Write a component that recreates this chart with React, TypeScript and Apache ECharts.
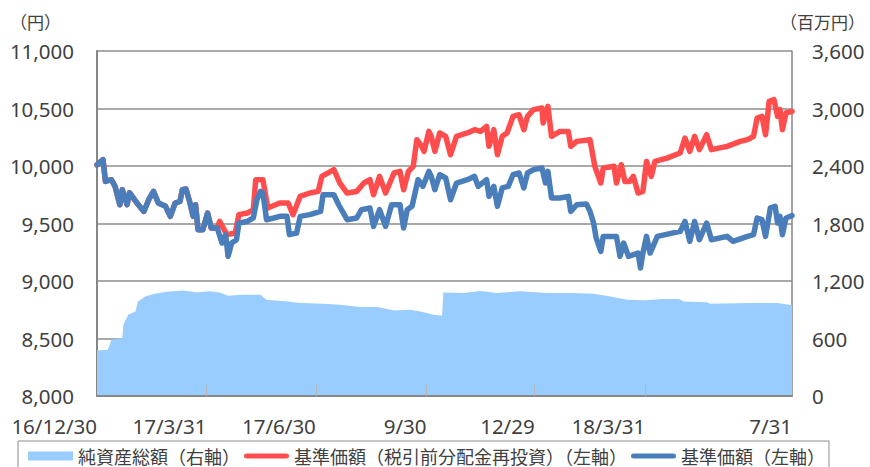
import React, { useEffect, useRef } from 'react';
import * as echarts from 'echarts';

// x-axis tick dates and labels
const tickDates = ['2016-12-30', '2017-03-31', '2017-06-30', '2017-09-30', '2017-12-29', '2018-03-31', '2018-07-31'];
const tickLabels = ['16/12/30', '17/3/31', '17/6/30', '9/30', '12/29', '18/3/31', '7/31'];
const startDate = '2016-12-30';
const endDate = '2018-07-31';

// 基準価額（左軸）
const navDates = [
  '2016-12-30', '2017-01-04', '2017-01-06', '2017-01-11', '2017-01-14', '2017-01-18', '2017-01-20', '2017-01-24', '2017-01-26',
  '2017-02-01', '2017-02-07', '2017-02-11', '2017-02-15', '2017-02-19', '2017-02-25', '2017-03-01', '2017-03-05', '2017-03-09',
  '2017-03-11', '2017-03-14', '2017-03-17', '2017-03-20', '2017-03-22', '2017-03-24', '2017-03-28', '2017-04-01', '2017-04-04',
  '2017-04-09', '2017-04-13', '2017-04-16', '2017-04-18', '2017-04-21', '2017-04-25', '2017-04-27', '2017-05-04', '2017-05-09',
  '2017-05-12', '2017-05-15', '2017-05-17', '2017-05-20', '2017-05-26', '2017-05-31', '2017-06-06', '2017-06-08', '2017-06-14',
  '2017-06-17', '2017-06-25', '2017-07-04', '2017-07-06', '2017-07-15', '2017-07-19', '2017-07-26', '2017-08-03', '2017-08-07',
  '2017-08-14', '2017-08-17', '2017-08-22', '2017-08-27', '2017-09-01', '2017-09-08', '2017-09-11', '2017-09-14', '2017-09-18',
  '2017-09-23', '2017-09-27', '2017-10-02', '2017-10-04', '2017-10-07', '2017-10-11', '2017-10-16', '2017-10-20', '2017-10-25',
  '2017-11-03', '2017-11-09', '2017-11-12', '2017-11-19', '2017-11-21', '2017-11-25', '2017-11-28', '2017-12-02', '2017-12-07',
  '2017-12-11', '2017-12-16', '2017-12-20', '2017-12-23', '2017-12-28', '2018-01-04', '2018-01-07', '2018-01-09', '2018-01-12',
  '2018-01-19', '2018-01-26', '2018-01-28', '2018-02-02', '2018-02-10', '2018-02-13', '2018-02-16', '2018-02-18', '2018-02-22',
  '2018-02-24', '2018-03-07', '2018-03-10', '2018-03-13', '2018-03-17', '2018-03-25', '2018-03-27', '2018-03-29', '2018-04-01',
  '2018-04-04', '2018-04-10', '2018-04-29', '2018-05-03', '2018-05-07', '2018-05-11', '2018-05-15', '2018-05-21', '2018-05-25',
  '2018-06-07', '2018-06-12', '2018-06-24', '2018-06-29', '2018-07-02', '2018-07-06', '2018-07-09', '2018-07-13', '2018-07-17',
  '2018-07-19', '2018-07-21', '2018-07-23', '2018-07-26', '2018-07-31',
];
const navValues = [
  10010, 10055, 9866, 9881, 9823, 9663, 9794, 9663, 9768,
  9681, 9605, 9707, 9779, 9678, 9649, 9562, 9678, 9692,
  9794, 9800, 9692, 9562, 9663, 9446, 9446, 9591, 9461,
  9461, 9330, 9403, 9214, 9330, 9359, 9504, 9518, 9548,
  9707, 9779, 9765, 9533, 9548, 9562, 9562, 9403, 9417,
  9562, 9577, 9605, 9750, 9750, 9663, 9533, 9548, 9620,
  9635, 9475, 9620, 9475, 9663, 9663, 9461, 9620, 9649,
  9881, 9823, 9953, 9910, 9794, 9924, 9896, 9707, 9852,
  9881, 9910, 9823, 9881, 9736, 9823, 9649, 9809, 9823,
  9924, 9939, 9809, 9939, 9968, 9983, 9852, 9953, 9722,
  9722, 9736, 9605, 9663, 9670, 9605, 9504, 9380, 9257,
  9388, 9388, 9214, 9330, 9214, 9243, 9113, 9243, 9388,
  9243, 9388, 9431, 9518, 9344, 9518, 9359, 9504, 9359,
  9388, 9344, 9388, 9403, 9548, 9533, 9388, 9635, 9649,
  9504, 9562, 9403, 9548, 9568,
];

// 基準価額（税引前分配金再投資）（左軸）
const reinvDates = [
  '2016-12-30', '2017-01-04', '2017-01-06', '2017-01-11', '2017-01-14', '2017-01-18', '2017-01-20', '2017-01-24', '2017-01-26',
  '2017-02-01', '2017-02-07', '2017-02-11', '2017-02-15', '2017-02-19', '2017-02-25', '2017-03-01', '2017-03-05', '2017-03-09',
  '2017-03-11', '2017-03-14', '2017-03-17', '2017-03-20', '2017-03-22', '2017-03-24', '2017-03-28', '2017-04-01', '2017-04-04',
  '2017-04-09', '2017-04-11', '2017-04-17', '2017-04-24', '2017-04-27', '2017-05-04', '2017-05-09', '2017-05-11', '2017-05-17',
  '2017-05-21', '2017-05-31', '2017-06-07', '2017-06-11', '2017-06-17', '2017-06-25', '2017-07-02', '2017-07-05', '2017-07-15',
  '2017-07-20', '2017-07-26', '2017-08-03', '2017-08-09', '2017-08-14', '2017-08-17', '2017-08-22', '2017-08-27', '2017-09-03',
  '2017-09-08', '2017-09-11', '2017-09-15', '2017-09-19', '2017-09-22', '2017-09-26', '2017-09-28', '2017-10-02', '2017-10-04',
  '2017-10-07', '2017-10-11', '2017-10-16', '2017-10-20', '2017-10-25', '2017-11-03', '2017-11-09', '2017-11-14', '2017-11-19',
  '2017-11-21', '2017-11-25', '2017-11-28', '2017-12-02', '2017-12-06', '2017-12-11', '2017-12-16', '2017-12-20', '2017-12-23',
  '2017-12-28', '2018-01-04', '2018-01-05', '2018-01-09', '2018-01-12', '2018-01-19', '2018-01-26', '2018-01-28', '2018-02-02',
  '2018-02-13', '2018-02-17', '2018-02-22', '2018-02-24', '2018-03-05', '2018-03-07', '2018-03-11', '2018-03-14', '2018-03-18',
  '2018-03-21', '2018-03-25', '2018-03-29', '2018-04-01', '2018-04-05', '2018-04-08', '2018-04-18', '2018-04-29', '2018-05-03',
  '2018-05-07', '2018-05-11', '2018-05-15', '2018-05-21', '2018-05-25', '2018-06-07', '2018-06-18', '2018-06-24', '2018-06-29',
  '2018-07-02', '2018-07-06', '2018-07-09', '2018-07-12', '2018-07-16', '2018-07-19', '2018-07-21', '2018-07-23', '2018-07-26',
  '2018-07-31',
];
const reinvValues = [
  10010, 10055, 9866, 9881, 9823, 9663, 9794, 9663, 9768,
  9681, 9605, 9707, 9779, 9678, 9649, 9562, 9678, 9692,
  9794, 9800, 9692, 9562, 9663, 9446, 9446, 9591, 9461,
  9461, 9518, 9403, 9417, 9577, 9591, 9620, 9881, 9881,
  9635, 9678, 9678, 9577, 9736, 9765, 9779, 9910, 9968,
  9852, 9765, 9779, 9852, 9881, 9750, 9910, 9765, 9939,
  9953, 9794, 9953, 9997, 10229, 10171, 10127, 10301, 10258,
  10127, 10287, 10258, 10098, 10258, 10287, 10316, 10301, 10345,
  10171, 10316, 10098, 10258, 10287, 10432, 10446, 10316, 10432,
  10490, 10504, 10374, 10519, 10258, 10301, 10301, 10171, 10214,
  10229, 9997, 9852, 9983, 9997, 9852, 10011, 9866, 9866,
  9910, 9765, 9779, 10040, 9910, 10040, 10069, 10113, 10243,
  10127, 10258, 10142, 10272, 10142, 10171, 10214, 10229, 10258,
  10417, 10432, 10272, 10562, 10577, 10432, 10490, 10316, 10461,
  10475,
];

// 純資産総額（右軸）百万円
const assetDates = [
  '2016-12-30', '2017-01-08', '2017-01-11', '2017-01-20', '2017-01-21', '2017-01-25', '2017-01-31', '2017-02-02', '2017-02-08',
  '2017-02-16', '2017-02-26', '2017-03-12', '2017-03-23', '2017-04-02', '2017-04-11', '2017-04-18', '2017-05-01', '2017-05-15',
  '2017-05-20', '2017-06-06', '2017-06-17', '2017-07-06', '2017-07-20', '2017-08-06', '2017-08-20', '2017-09-03', '2017-09-16',
  '2017-09-25', '2017-10-06', '2017-10-13', '2017-10-14', '2017-10-31', '2017-11-14', '2017-11-28', '2017-12-17', '2018-01-08',
  '2018-01-28', '2018-02-16', '2018-03-02', '2018-03-16', '2018-03-30', '2018-04-15', '2018-04-28', '2018-05-02', '2018-05-21',
  '2018-05-24', '2018-06-29', '2018-07-19', '2018-07-30', '2018-07-31',
];
const assetValues = [
  476, 483, 587, 605, 744, 848, 883, 987, 1039,
  1067, 1088, 1102, 1081, 1092, 1081, 1047, 1057, 1057,
  1005, 987, 970, 963, 953, 929, 929, 893, 901,
  883, 848, 838, 1081, 1075, 1096, 1075, 1092, 1075,
  1075, 1067, 1039, 1005, 998, 1012, 1012, 987, 977,
  963, 970, 970, 949, 945,
];

const dayIndex = (s: string): number => {
  const [y, m, d] = s.split('-').map(Number);
  const [y0, m0, d0] = startDate.split('-').map(Number);
  return Math.round((Date.UTC(y, m - 1, d) - Date.UTC(y0, m0 - 1, d0)) / 86400000);
};

const pairs = (dates: string[], values: number[]) => dates.map((d, i) => [dayIndex(d), values[i]]);

const FONT_NUM = '"Noto Sans", "Noto Sans CJK JP", sans-serif';
const FONT_JP = '"Noto Sans CJK JP", sans-serif';
const LINE_ICON = 'path://M2.5,0 L42.5,0 A2.5,2.5 0 0 1 42.5,5 L2.5,5 A2.5,2.5 0 0 1 2.5,0 Z';

export default function App() {
  const ref = useRef<HTMLDivElement>(null);
  useEffect(() => {
    if (!ref.current) return;
    const chart = echarts.init(ref.current, undefined, { renderer: 'svg' });
    const tickDays = tickDates.map(dayIndex);
    const innerTicks = tickDays.slice(1, tickDays.length - 1);
    chart.setOption({
      animation: false,
      backgroundColor: '#ffffff',
      grid: { left: 97, right: 78, top: 51, bottom: 71, containLabel: false },
      graphic: [
        { type: 'text', left: 10, top: 13, style: { text: '（円）', font: `17px ${FONT_JP}`, fill: '#404040' } },
        { type: 'text', left: 780, top: 13, style: { text: '（百万円）', font: `17px ${FONT_JP}`, fill: '#404040' } },
      ],
      legend: {
        left: 18,
        top: 441,
        orient: 'horizontal',
        borderColor: '#8c8c8c',
        borderWidth: 1,
        padding: [6, 4, 8, 10],
        itemWidth: 45,
        itemHeight: 9,
        itemGap: 4,
        textStyle: { fontSize: 18, color: '#404040', fontFamily: FONT_JP },
        data: [
          { name: '純資産総額（右軸）', icon: 'rect' },
          { name: '基準価額（税引前分配金再投資）（左軸）', icon: LINE_ICON },
          { name: '基準価額（左軸）', icon: LINE_ICON },
        ],
      },
      xAxis: {
        type: 'value',
        min: dayIndex(startDate),
        max: dayIndex(endDate),
        z: 5,
        axisLine: { show: true, lineStyle: { color: '#868686', width: 2 } },
        axisTick: {
          show: true,
          inside: true,
          length: 11,
          customValues: innerTicks,
          lineStyle: { color: '#b5b5b5', width: 1 },
        },
        axisLabel: {
          customValues: tickDays,
          formatter: (v: number) => {
            const i = tickDays.indexOf(Math.round(v));
            return i >= 0 ? tickLabels[i] : '';
          },
          align: 'right',
          margin: 20,
          fontSize: 20.5,
          color: '#404040',
          fontFamily: FONT_NUM,
        },
        splitLine: { show: false },
      },
      yAxis: [
        {
          type: 'value',
          min: 8000,
          max: 11000,
          interval: 500,
          position: 'left',
          axisLine: { show: true, lineStyle: { color: '#868686', width: 2 } },
          axisTick: { show: false },
          axisLabel: { margin: 23, fontSize: 20.5, color: '#404040', fontFamily: FONT_NUM },
          splitLine: { show: true, lineStyle: { color: '#8c8c8c', width: 1.5 } },
        },
        {
          type: 'value',
          min: 0,
          max: 3600,
          interval: 600,
          position: 'right',
          axisLine: { show: true, lineStyle: { color: '#868686', width: 1.5 } },
          axisTick: { show: false },
          axisLabel: { margin: 20, fontSize: 20.5, color: '#404040', fontFamily: FONT_NUM },
          splitLine: { show: false },
        },
      ],
      series: [
        {
          name: '純資産総額（右軸）',
          type: 'line',
          yAxisIndex: 1,
          data: pairs(assetDates, assetValues),
          symbol: 'none',
          color: '#99ccff',
          lineStyle: { width: 0, color: '#99ccff' },
          areaStyle: { color: '#99ccff', opacity: 1 },
          z: 1,
        },
        {
          name: '基準価額（税引前分配金再投資）（左軸）',
          type: 'line',
          yAxisIndex: 0,
          data: pairs(reinvDates, reinvValues),
          symbol: 'none',
          color: '#ff4d4d',
          lineStyle: { width: 5.5, color: '#ff4d4d', cap: 'round', join: 'round' },
          z: 3,
        },
        {
          name: '基準価額（左軸）',
          type: 'line',
          yAxisIndex: 0,
          data: pairs(navDates, navValues),
          symbol: 'none',
          color: '#4a7ebb',
          lineStyle: { width: 5.5, color: '#4a7ebb', cap: 'round', join: 'round' },
          z: 4,
        },
      ],
    });
    return () => chart.dispose();
  }, []);
  return <div ref={ref} style={{ width: 870, height: 467, position: 'absolute', left: 0, top: 0 }} />;
}
